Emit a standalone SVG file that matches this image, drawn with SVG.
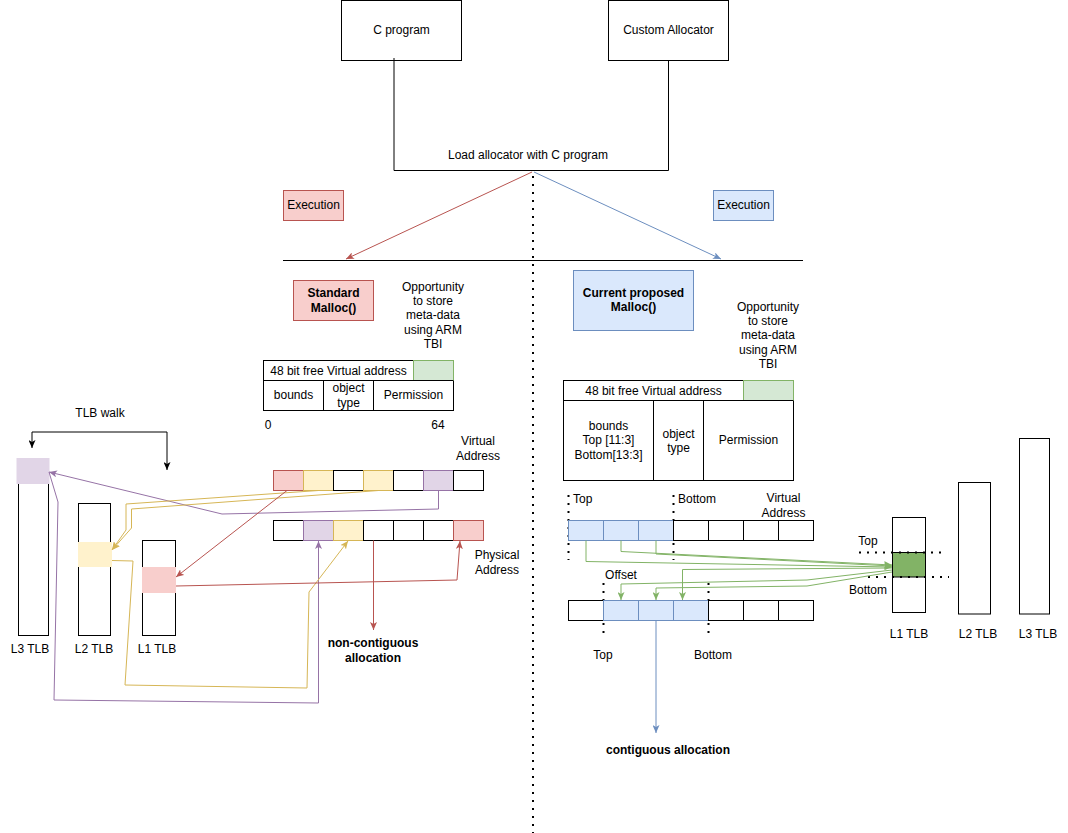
<svg xmlns="http://www.w3.org/2000/svg" width="1068" height="833" viewBox="0 0 1068 833">
<defs>
<style>
text { font-family: "Liberation Sans", Arial, sans-serif; font-size: 12px; fill: #000; text-anchor: middle; }
.b { font-weight: bold; }
.st { text-anchor: start; }
.box { fill: #fff; stroke: #000; stroke-width: 1; }
.red { fill: #F8CECC; stroke: #B85450; }
.blue { fill: #DAE8FC; stroke: #6C8EBF; }
.yel { fill: #FFF2CC; stroke: #D6B656; }
.pur { fill: #E1D5E7; stroke: #9673A6; }
.grn { fill: #D5E8D4; stroke: #82B366; }
.dot { stroke: #000; stroke-width: 2; stroke-dasharray: 2 6; fill: none; }
.ln { fill: none; stroke-width: 1; }
.k { stroke: #000; }
.r { stroke: #B85450; }
.bl { stroke: #6C8EBF; }
.y { stroke: #D6B656; }
.p { stroke: #9673A6; }
.g { stroke: #82B366; }
</style>
<marker id="aK" viewBox="0 0 8 7" refX="8" refY="3.5" markerWidth="8" markerHeight="7" markerUnits="userSpaceOnUse" orient="auto-start-reverse"><path d="M0,0 L8,3.5 L0,7 L2,3.5 z" fill="#000"/></marker>
<marker id="aR" viewBox="0 0 8 7" refX="8" refY="3.5" markerWidth="8" markerHeight="7" markerUnits="userSpaceOnUse" orient="auto-start-reverse"><path d="M0,0 L8,3.5 L0,7 L2,3.5 z" fill="#B85450"/></marker>
<marker id="aB" viewBox="0 0 8 7" refX="8" refY="3.5" markerWidth="8" markerHeight="7" markerUnits="userSpaceOnUse" orient="auto-start-reverse"><path d="M0,0 L8,3.5 L0,7 L2,3.5 z" fill="#6C8EBF"/></marker>
<marker id="aY" viewBox="0 0 8 7" refX="8" refY="3.5" markerWidth="8" markerHeight="7" markerUnits="userSpaceOnUse" orient="auto-start-reverse"><path d="M0,0 L8,3.5 L0,7 L2,3.5 z" fill="#D6B656"/></marker>
<marker id="aP" viewBox="0 0 8 7" refX="8" refY="3.5" markerWidth="8" markerHeight="7" markerUnits="userSpaceOnUse" orient="auto-start-reverse"><path d="M0,0 L8,3.5 L0,7 L2,3.5 z" fill="#9673A6"/></marker>
<marker id="aG" viewBox="0 0 8 7" refX="8" refY="3.5" markerWidth="8" markerHeight="7" markerUnits="userSpaceOnUse" orient="auto-start-reverse"><path d="M0,0 L8,3.5 L0,7 L2,3.5 z" fill="#82B366"/></marker>
</defs>
<rect width="1068" height="833" fill="#fff"/>

<g id="separators">
<line x1="283" y1="260.5" x2="803" y2="260.5" stroke="#000" stroke-width="1"/>
<line class="dot" x1="533" y1="176" x2="533" y2="833"/>
<line class="dot" x1="568.5" y1="495" x2="568.5" y2="560"/>
<line class="dot" x1="673.5" y1="495" x2="673.5" y2="560"/>
<line class="dot" x1="603.5" y1="583" x2="603.5" y2="635"/>
<line class="dot" x1="708.5" y1="583" x2="708.5" y2="635"/>
</g>

<g id="c-program"><rect class="box" x="341.5" y="0.5" width="120" height="60"/><text x="401.5" y="34">C program</text></g>
<g id="custom-allocator"><rect class="box" x="608.5" y="0.5" width="120" height="60"/><text x="668.5" y="34">Custom Allocator</text></g>
<g id="load-label"><text x="528" y="159">Load allocator with C program</text></g>
<g id="exec-left"><rect class="red" x="283.5" y="190.5" width="60" height="30"/><text x="313.5" y="209">Execution</text></g>
<g id="exec-right"><rect class="blue" x="713.5" y="190.5" width="60" height="30"/><text x="743.5" y="209">Execution</text></g>

<g id="standard-malloc"><rect class="red" x="293.5" y="280.5" width="80" height="40"/><text class="b" x="333.5" y="297">Standard</text><text class="b" x="333.5" y="312">Malloc()</text></g>
<g id="opportunity-left"><text x="433" y="291">Opportunity</text><text x="433" y="305">to store</text><text x="433" y="319">meta-data</text><text x="433" y="334">using ARM</text><text x="433" y="348">TBI</text></g>
<g id="table-left">
<rect class="box" x="263.5" y="360.5" width="190" height="50"/>
<rect class="grn" x="413.5" y="360.5" width="40" height="20"/>
<line x1="263.5" y1="380.5" x2="453.5" y2="380.5" stroke="#000"/>
<line x1="323.5" y1="380.5" x2="323.5" y2="410.5" stroke="#000"/>
<line x1="373.5" y1="380.5" x2="373.5" y2="410.5" stroke="#000"/>
<text x="338.5" y="374.5">48 bit free Virtual address</text>
<text x="293.5" y="399">bounds</text>
<text x="348.5" y="392">object</text><text x="348.5" y="407">type</text>
<text x="413.5" y="399">Permission</text>
<text x="268" y="429">0</text><text x="438" y="429">64</text>
</g>
<g id="tlb-walk-label"><text x="100" y="417">TLB walk</text></g>
<g id="l3-tlb-left"><rect class="box" x="18.5" y="458.5" width="30" height="177"/><rect x="16.5" y="458" width="33" height="26" fill="#E1D5E7"/><text x="30" y="653">L3 TLB</text></g>
<g id="l2-tlb-left"><rect class="box" x="78.5" y="503.5" width="32" height="132"/><rect x="78" y="542" width="34" height="25" fill="#FFF2CC"/><text x="94" y="653">L2 TLB</text></g>
<g id="l1-tlb-left"><rect class="box" x="142.5" y="540.5" width="33" height="95"/><rect x="142" y="567" width="34" height="26" fill="#F8CECC"/><text x="157" y="653">L1 TLB</text></g>
<g id="virtual-left">
<rect class="red" x="273.5" y="470.5" width="30" height="20"/>
<rect class="yel" x="303.5" y="470.5" width="30" height="20"/>
<rect class="box" x="333.5" y="470.5" width="30" height="20"/>
<rect class="yel" x="363.5" y="470.5" width="30" height="20"/>
<rect class="box" x="393.5" y="470.5" width="30" height="20"/>
<rect class="pur" x="423.5" y="470.5" width="30" height="20"/>
<rect class="box" x="453.5" y="470.5" width="30" height="20"/>
<text x="478" y="445">Virtual</text><text x="478" y="460">Address</text>
</g>
<g id="physical-left">
<rect class="box" x="273.5" y="520.5" width="30" height="20"/>
<rect class="pur" x="303.5" y="520.5" width="30" height="20"/>
<rect class="yel" x="333.5" y="520.5" width="30" height="20"/>
<rect class="box" x="363.5" y="520.5" width="30" height="20"/>
<rect class="box" x="393.5" y="520.5" width="30" height="20"/>
<rect class="box" x="423.5" y="520.5" width="30" height="20"/>
<rect class="red" x="453.5" y="520.5" width="30" height="20"/>
<text x="497" y="559">Physical</text><text x="497" y="574">Address</text>
</g>
<g id="non-contiguous"><text class="b" x="373" y="647">non-contiguous</text><text class="b" x="373" y="662">allocation</text></g>

<g id="proposed-malloc"><rect class="blue" x="573.5" y="270.5" width="120" height="60"/><text class="b" x="633.5" y="297">Current proposed</text><text class="b" x="633.5" y="311">Malloc()</text></g>
<g id="opportunity-right"><text x="768" y="311">Opportunity</text><text x="768" y="325">to store</text><text x="768" y="339">meta-data</text><text x="768" y="354">using ARM</text><text x="768" y="368">TBI</text></g>
<g id="table-right">
<rect class="box" x="563.5" y="380.5" width="230" height="100"/>
<rect class="grn" x="743.5" y="380.5" width="50" height="20"/>
<line x1="563.5" y1="400.5" x2="793.5" y2="400.5" stroke="#000"/>
<line x1="653.5" y1="400.5" x2="653.5" y2="480.5" stroke="#000"/>
<line x1="703.5" y1="400.5" x2="703.5" y2="480.5" stroke="#000"/>
<text x="653.5" y="394.5">48 bit free Virtual address</text>
<text x="608.5" y="430">bounds</text><text x="608.5" y="444">Top [11:3]</text><text x="608.5" y="458.5">Bottom[13:3]</text>
<text x="678.5" y="437.5">object</text><text x="678.5" y="452">type</text>
<text x="748.5" y="444">Permission</text>
</g>
<g id="virtual-right">
<rect class="blue" x="568.5" y="520.5" width="35" height="20"/>
<rect class="blue" x="603.5" y="520.5" width="35" height="20"/>
<rect class="blue" x="638.5" y="520.5" width="35" height="20"/>
<rect class="box" x="673.5" y="520.5" width="35" height="20"/>
<rect class="box" x="708.5" y="520.5" width="35" height="20"/>
<rect class="box" x="743.5" y="520.5" width="35" height="20"/>
<rect class="box" x="778.5" y="520.5" width="35" height="20"/>
<text class="st" x="573" y="503">Top</text><text class="st" x="678" y="503">Bottom</text>
<text x="783.5" y="501.5">Virtual</text><text x="783.5" y="517">Address</text>
</g>
<g id="physical-right">
<rect class="box" x="568.5" y="600.5" width="35" height="20"/>
<rect class="blue" x="603.5" y="600.5" width="35" height="20"/>
<rect class="blue" x="638.5" y="600.5" width="35" height="20"/>
<rect class="blue" x="673.5" y="600.5" width="35" height="20"/>
<rect class="box" x="708.5" y="600.5" width="35" height="20"/>
<rect class="box" x="743.5" y="600.5" width="35" height="20"/>
<rect class="box" x="778.5" y="600.5" width="35" height="20"/>
<text x="621" y="579">Offset</text>
<text x="603" y="658.5">Top</text><text x="713" y="658.5">Bottom</text>
</g>
<g id="contiguous"><text class="b" x="668" y="754">contiguous allocation</text></g>
<g id="l1-tlb-right">
<rect class="box" x="892.5" y="517.5" width="33" height="95"/>
<rect x="892.5" y="552.5" width="33" height="24.5" fill="#82B366" stroke="#000"/>
<line class="dot" x1="859" y1="552.5" x2="947" y2="552.5"/>
<line class="dot" x1="868" y1="577" x2="949" y2="577"/>
<text x="868" y="545">Top</text><text x="868" y="594">Bottom</text>
<text x="909" y="638">L1 TLB</text>
</g>
<g id="l2-tlb-right"><rect class="box" x="958.5" y="482.5" width="32" height="131.5"/><text x="978" y="638">L2 TLB</text></g>
<g id="l3-tlb-right"><rect class="box" x="1019.5" y="438.5" width="30" height="175.5"/><text x="1038" y="638">L3 TLB</text></g>

<g id="connectors">
<polyline class="ln k" points="394,58 394,170.5 668.5,170.5 668.5,60"/>
<line class="ln r" x1="532" y1="172" x2="346" y2="259" marker-end="url(#aR)"/>
<line class="ln bl" x1="534" y1="172" x2="721" y2="259" marker-end="url(#aB)"/>
<path class="ln k" d="M32,448 V432 H167 V470" marker-start="url(#aK)" marker-end="url(#aK)"/>
<path class="ln p" d="M438.5,490.5 V509 L222,514 L49,472" marker-end="url(#aP)"/>
<path class="ln p" d="M49,472 L58,502 L54,700 L318.5,703 V541" marker-end="url(#aP)"/>
<path class="ln y" d="M318.5,490.5 L126,504 V530 L112,550" marker-end="url(#aY)"/>
<path class="ln y" d="M378.5,490.5 L131.5,509 V528 L112,550" marker-end="url(#aY)"/>
<path class="ln y" d="M112,560.5 L133,561 L125,685 L307,688 L309,592 L348,541" marker-end="url(#aY)"/>
<path class="ln r" d="M287,490.5 L176,577" marker-end="url(#aR)"/>
<path class="ln r" d="M176,586 L457,580 L460,541" marker-end="url(#aR)"/>
<path class="ln r" d="M373.5,540.5 V630" marker-end="url(#aR)"/>
<path class="ln g" d="M586,540.5 V561.5 L892,567" marker-end="url(#aG)"/>
<path class="ln g" d="M621,540.5 V551.5 L892,565" marker-end="url(#aG)"/>
<path class="ln g" d="M656,540.5 V554 L892,566" marker-end="url(#aG)"/>
<path class="ln g" d="M892,568 L682.5,569.5 V600" marker-end="url(#aG)"/>
<path class="ln g" d="M892,570 L807,580 L621,584 V600" marker-end="url(#aG)"/>
<path class="ln g" d="M892,572 L807,586 L656,588 V600" marker-end="url(#aG)"/>
<path class="ln bl" d="M656,620.5 V733" marker-end="url(#aB)"/>
</g>
</svg>
